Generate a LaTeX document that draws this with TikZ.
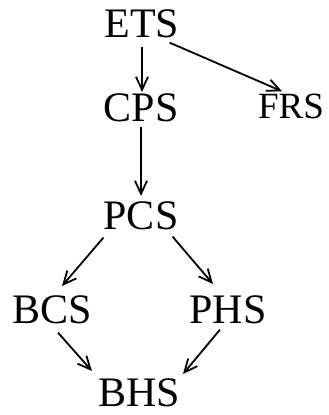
\documentclass[tikz,border=0pt]{standalone}
\usepackage{fontspec}
\setmainfont{Liberation Serif}
\usetikzlibrary{arrows.meta}
\tikzset{
  lbl/.style={anchor=base,inner sep=0pt,font=\fontsize{42}{42}\selectfont},
  small/.style={font=\fontsize{37}{37}\selectfont},
  arr/.style={-{Straight Barb[length=13pt,width=12pt]},line width=1.8pt}
}
\begin{document}
\begin{tikzpicture}[x=1pt,y=-1pt]
        \useasboundingbox (0,0) rectangle (329,415);
        %% nodes
        \node[lbl] (ets) at (142,37) {ETS};
        \node[lbl] (cps) at (141,121) {CPS};
        \node[lbl,small] (frs) at (291,118) {FRS};
        \node[lbl] (pcs) at (141,229) {PCS};
        \node[lbl] (bcs) at (52,323) {BCS};
        \node[lbl] (phs) at (228,323) {PHS};
        \node[lbl] (bhs) at (139,406) {BHS};
        %% arrows
        \draw[arr,shorten <=9pt,shorten >=1pt] (ets.south) -- (ets.south |- cps.north);
        \draw[arr] ([xshift=-10pt,yshift=-5pt]ets.south east) -- ([xshift=-9pt,yshift=2pt]frs.north);
        \draw[arr,shorten <=5pt,shorten >=5pt] (cps.south) -- (pcs.north);
        \draw[arr] ([yshift=-8pt]pcs.south west) -- ([xshift=10pt,yshift=9pt]bcs.north);
        \draw[arr] ([xshift=-6pt,yshift=-7pt]pcs.south east) -- ([xshift=-15pt,yshift=11pt]phs.north);
        \draw[arr] ([xshift=6pt,yshift=-9pt]bcs.south) -- ([xshift=-6pt,yshift=7pt]bhs.north west);
        \draw[arr] ([xshift=-8pt,yshift=-6pt]phs.south) -- ([xshift=3pt,yshift=4pt]bhs.north east);
    \end{tikzpicture}
\end{document}
